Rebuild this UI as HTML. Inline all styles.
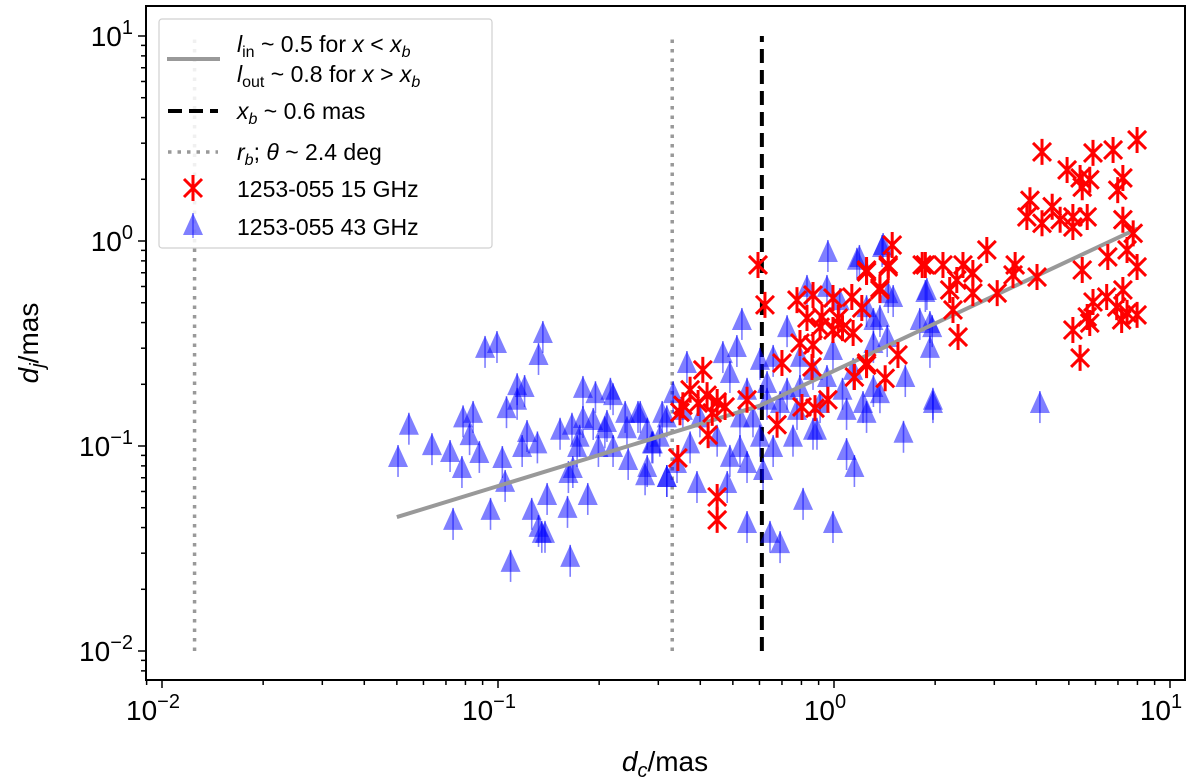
<!DOCTYPE html>
<html><head><meta charset="utf-8"><style>
html,body{margin:0;padding:0;background:#fff}
svg{display:block;font-family:"Liberation Sans","DejaVu Sans",sans-serif}
</style></head><body>
<svg id="chart" width="1200" height="778" viewBox="0 0 1200 778">
<g id="plot"></g>
<g id="axes"></g>
<g id="legend">
<rect x="159" y="19" width="333" height="229" rx="3" fill="#fff" fill-opacity="0.85" stroke="#d0d0d0" stroke-width="1.2"/>
<g>
<line x1="167" y1="59" x2="220" y2="59" stroke="#999" stroke-width="4"/>
<text x="237" y="52" font-size="23"><tspan font-style="italic">l</tspan><tspan font-size="16" dy="5">in</tspan><tspan dy="-5"> ~ 0.5 for </tspan><tspan font-style="italic">x</tspan> &lt; <tspan font-style="italic">x</tspan><tspan font-size="16" dy="5" font-style="italic">b</tspan></text>
<text x="237" y="82" font-size="23"><tspan font-style="italic">l</tspan><tspan font-size="16" dy="5">out</tspan><tspan dy="-5"> ~ 0.8 for </tspan><tspan font-style="italic">x</tspan> &gt; <tspan font-style="italic">x</tspan><tspan font-size="16" dy="5" font-style="italic">b</tspan></text>
</g>
<g>
<line x1="168" y1="111" x2="218" y2="111" stroke="#000" stroke-width="4" stroke-dasharray="14,7"/>
<text x="237" y="119" font-size="23"><tspan font-style="italic">x</tspan><tspan font-size="16" dy="5" font-style="italic">b</tspan><tspan dy="-5"> ~ 0.6 mas</tspan></text>
</g>
<g>
<line x1="168" y1="152" x2="218" y2="152" stroke="#999" stroke-width="3.5" stroke-dasharray="3.5,6"/>
<text x="237" y="160" font-size="23"><tspan font-style="italic">r</tspan><tspan font-size="16" dy="5" font-style="italic">b</tspan><tspan dy="-5">;  </tspan><tspan font-style="italic">θ</tspan> ~ 2.4 deg</text>
</g>
<g>
<path d="M184,179 L202,197 M202,179 L184,197 M193,175 L193,201" stroke="#f00" stroke-width="3"/>
<text x="237" y="197" font-size="23">1253-055 15 GHz</text>
</g>
<g>
<path d="M193,213 L203,235 L183,235 Z" fill="#0000ff" fill-opacity="0.5"/>
<line x1="193" y1="213" x2="193" y2="238" stroke="#0000ff" stroke-opacity="0.5" stroke-width="1.5"/>
<text x="237" y="235" font-size="23">1253-055 43 GHz</text>
</g>
</g>
</svg>
<script>
const blueX=[0.0543,0.0504,0.0636,0.072,0.0781,0.0787,0.0843,0.0823,0.088,0.0915,0.0993,0.136,0.132,0.114,0.12,0.114,0.106,0.122,0.118,0.131,0.103,0.105,0.0735,0.095,0.126,0.140,0.132,0.138,0.135,0.109,0.164,0.161,0.185,0.162,0.167,0.153,0.166,0.179,0.175,0.172,0.199,0.179,0.195,0.216,0.22,0.192,0.211,0.208,0.22,0.239,0.261,0.242,0.244,0.278,0.278,0.289,0.308,0.318,0.332,
0.959,1.17,1.40,1.50,1.89,1.93,1.93,1.97,1.63,1.61,1.15,0.993,0.809,0.691,0.645,0.551,0.391,0.481,0.318,0.274,0.287,0.265,0.365,0.467,0.514,0.532,0.49,0.602,0.659,0.725,0.831,0.953,1.04,1.25,1.37,1.44,1.31,0.792,0.866,0.953,0.792,0.725,0.632,0.551,0.525,0.574,0.632,0.691,0.776,0.89,0.755,0.659,0.602,0.525,0.551,0.615,0.49,0.449,0.399,0.355,0.318,0.303,0.373,0.341,1.09,1.22,1.25,1.31,1.06,1.14,0.993,1.09,0.909,0.866,
1.39,1.19,1.45,1.87,1.80,1.96,1.37,1.97,1.31,4.10];
const blueY=[0.127,0.0884,0.101,0.0935,0.0781,0.138,0.145,0.113,0.0925,0.301,0.318,0.356,0.278,0.198,0.194,0.168,0.153,0.117,0.0989,0.103,0.0874,0.0668,0.0436,0.0488,0.0488,0.0577,0.0403,0.0377,0.0377,0.0272,0.0288,0.0499,0.0577,0.0738,0.0781,0.120,0.127,0.137,0.111,0.0989,0.0989,0.192,0.181,0.188,0.177,0.134,0.131,0.122,0.0989,0.145,0.145,0.122,0.0855,0.079,0.120,0.103,0.145,0.0706,0.181,
0.884,0.81,0.956,0.533,0.577,0.398,0.301,0.162,0.217,0.116,0.079,0.0421,0.0546,0.0336,0.0377,0.0421,0.066,0.066,0.0706,0.072,0.103,0.145,0.254,0.284,0.304,0.412,0.227,0.263,0.272,0.380,0.597,0.597,0.515,0.476,0.426,0.340,0.318,0.272,0.235,0.217,0.194,0.188,0.203,0.188,0.138,0.138,0.168,0.162,0.150,0.120,0.111,0.0989,0.111,0.0989,0.0826,0.0764,0.0885,0.111,0.138,0.150,0.138,0.111,0.103,0.0826,0.0956,0.162,0.145,0.194,0.188,0.235,0.294,0.150,0.162,0.120,
0.935,0.836,0.557,0.564,0.412,0.380,0.181,0.168,0.412,0.162];
const redX=[1.49,0.594,0.623,1.25,1.45,1.87,1.37,0.776,0.866,0.993,1.13,1.21,0.831,0.921,1.03,0.909,0.993,1.06,1.14,0.792,0.866,0.700,0.86,1.25,1.55,1.15,1.42,0.407,0.373,0.419,0.355,0.449,0.394,0.474,0.551,0.434,0.348,0.422,0.677,0.803,0.878,0.959,0.343,0.449,0.449,
4.16,7.98,5.90,6.77,4.94,5.40,5.77,5.48,7.24,6.99,3.83,4.46,3.75,4.16,4.71,5.14,5.67,5.14,7.24,7.77,7.45,6.53,7.98,5.48,1.45,1.25,1.83,2.11,2.42,2.85,3.46,3.41,2.59,2.32,2.21,2.59,3.06,4.02,1.37,2.26,2.34,1.25,5.90,6.48,7.24,6.94,7.45,7.98,5.14,5.77,5.67,7.18,5.40];
const redY=[0.956,0.764,0.488,0.722,0.764,0.764,0.59,0.515,0.545,0.527,0.533,0.471,0.421,0.426,0.421,0.380,0.368,0.376,0.356,0.318,0.311,0.254,0.243,0.254,0.278,0.217,0.214,0.235,0.188,0.177,0.158,0.164,0.162,0.155,0.168,0.145,0.146,0.113,0.127,0.155,0.153,0.168,0.0874,0.0564,0.0436,
2.72,3.11,2.69,2.78,2.22,2.03,1.99,1.83,2.03,1.77,1.58,1.47,1.31,1.22,1.27,1.31,1.31,1.17,1.27,1.09,0.904,0.836,0.747,0.722,0.747,0.706,0.764,0.764,0.764,0.904,0.764,0.683,0.698,0.645,0.577,0.557,0.557,0.667,0.577,0.461,0.340,0.248,0.504,0.533,0.577,0.476,0.446,0.436,0.368,0.398,0.426,0.412,0.269];
const fitX=[0.05,0.6,8];
const fitY=[0.045,0.157,1.15];
const rbValues=[0.0125,0.33];
const xbValue=0.61;
const vlineRange=[0.01,10];
const xTickLabels=["−2","−1","0","1"];
const yTickLabels=["−2","−1","0","1"];

const NS="http://www.w3.org/2000/svg";
const L=146,R=1185,T=6,B=680;
const X0=834,XD=336,Y0=241,YD=205;
function sx(v){return X0+Math.log10(v)*XD;}
function sy(v){return Y0-Math.log10(v)*YD;}
function mk(tag,attrs,parent){const e=document.createElementNS(NS,tag);for(const k in attrs)e.setAttribute(k,attrs[k]);parent.appendChild(e);return e;}
const plot=document.getElementById('plot'),axes=document.getElementById('axes');

rbValues.forEach((v,i)=>{
  const l=mk('line',{x1:sx(v),x2:sx(v),y1:sy(vlineRange[0]),y2:sy(vlineRange[1]),stroke:'#999','stroke-width':3.5,'stroke-dasharray':'3.5,6'},plot);
  
  
});
const xb=mk('line',{x1:sx(xbValue),x2:sx(xbValue),y1:sy(vlineRange[0]),y2:sy(vlineRange[1]),stroke:'#000','stroke-width':4,'stroke-dasharray':'14,7'},plot);



blueX.forEach((v,i)=>{
  const x=sx(v),y=sy(blueY[i]);
  const g=mk('g',{},plot);
  
  
  mk('line',{x1:x,x2:x,y1:y-12,y2:y+20,stroke:'#0000ff','stroke-opacity':0.5,'stroke-width':1.6},g);
  mk('path',{d:`M${x},${y-12} L${x+10},${y+10} L${x-10},${y+10} Z`,fill:'#0000ff','fill-opacity':0.5},g);
});
const fit=mk('polyline',{points:fitX.map((v,i)=>sx(v)+','+sy(fitY[i])).join(' '),fill:'none',stroke:'#999','stroke-width':4},plot);


redX.forEach((v,i)=>{
  const x=sx(v),y=sy(redY[i]);
  const p=mk('path',{d:`M${x-9},${y-9} L${x+9},${y+9} M${x+9},${y-9} L${x-9},${y+9} M${x},${y-13} L${x},${y+13}`,stroke:'#f00','stroke-width':3,fill:'none'},plot);
  
  
});

const fr=mk('rect',{x:L,y:T,width:R-L,height:B-T,fill:'none',stroke:'#000','stroke-width':2},axes);


for(let d=-3;d<=1;d++){
  for(let m=1;m<10;m++){
    const v=m*Math.pow(10,d);
    const xp=sx(v);
    if(xp>=L-0.5&&xp<=R+0.5) mk('line',{x1:xp,x2:xp,y1:B,y2:B+(m==1?8:5),stroke:'#000','stroke-width':1.5},axes);
    const yp=sy(v);
    if(yp>=T-0.5&&yp<=B+0.5) mk('line',{x1:L,x2:L-(m==1?8:5),y1:yp,y2:yp,stroke:'#000','stroke-width':1.5},axes);
  }
}
xTickLabels.forEach((lab,i)=>{
  const v=Math.pow(10,i-2);
  const t=mk('text',{x:sx(v)-9,y:B+40,'font-size':28,'text-anchor':'middle'},axes);
  t.innerHTML='10<tspan font-size="20" dy="-12">'+lab+'</tspan>';
  
  
});
yTickLabels.forEach((lab,i)=>{
  const v=Math.pow(10,i-2);
  const t=mk('text',{x:L-13,y:sy(v)+10,'font-size':28,'text-anchor':'end'},axes);
  t.innerHTML='10<tspan font-size="20" dy="-12">'+lab+'</tspan>';
  
  
});
const xl=mk('text',{x:665,y:771,'font-size':28,'text-anchor':'middle'},axes);
xl.innerHTML='<tspan font-style="italic">d</tspan><tspan font-size="20" dy="6" font-style="italic">c</tspan><tspan dy="-6">/mas</tspan>';


const yl=mk('text',{x:0,y:0,'font-size':28,'text-anchor':'middle',transform:'translate(38,343) rotate(-90)'},axes);
yl.innerHTML='<tspan font-style="italic">d</tspan><tspan font-size="20" dy="6" font-style="italic">j</tspan><tspan dy="-6">/mas</tspan>';


</script>
</body></html>
